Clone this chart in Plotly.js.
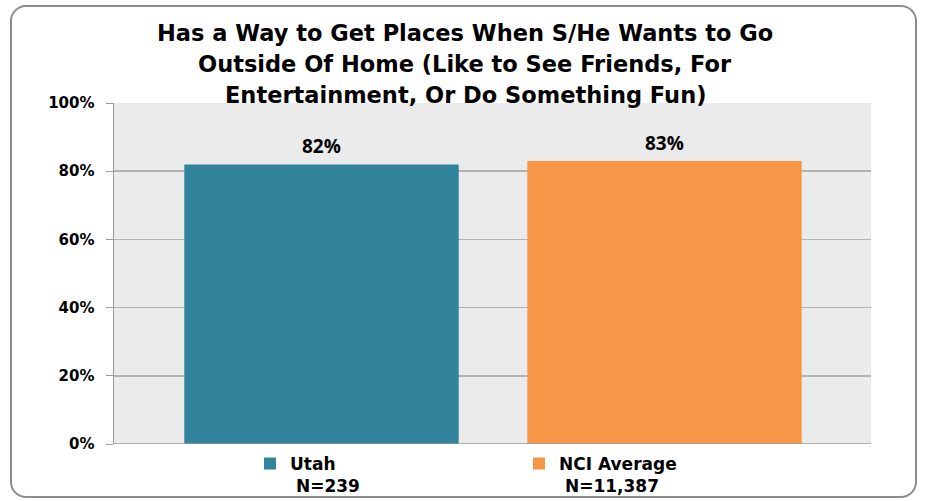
<!DOCTYPE html>
<html>
<head>
<meta charset="utf-8">
<script src="https://cdn.plot.ly/plotly-3.0.1.min.js"></script>
<style>
  html, body { margin: 0; padding: 0; background: #fff; }
  #wrap { position: relative; width: 926px; height: 501px; }
  #chart { width: 926px; height: 501px; }
  #frame { position: absolute; left: 10px; top: 5px; width: 903px; height: 489px;
           border: 2px solid #8c8c8c; border-radius: 16px; pointer-events: none; }
</style>
</head>
<body>
<div id="wrap">
  <div id="chart"></div>
  <div id="frame"></div>
</div>
<script>
const seriesNames = ["Utah", "NCI Average"];
const sampleSizes = ["N=239", "N=11,387"];
const values = [82, 83];
const valueLabels = ["82%", "83%"];
const categories = ["Utah", "NCI Average"];
const colors = ["#31849B", "#F79646"];
const yTicks = [0, 20, 40, 60, 80, 100];
const yTickLabels = ["0%", "20%", "40%", "60%", "80%", "100%"];
const titleLines = [
  "Has a Way to Get Places When S/He Wants to Go",
  "Outside Of Home (Like to See Friends, For",
  "Entertainment, Or Do Something Fun)"
];

const traces = seriesNames.map((name, i) => ({
  type: "bar",
  name: name + "<br> " + sampleSizes[i],
  x: [categories[i]],
  y: [values[i]],
  width: 0.8,
  marker: { color: colors[i] },
  hoverinfo: "skip"
}));

const titleY = [1.2053, 1.1144, 1.0235];
const annotations = titleLines.map((t, i) => ({
  text: t, xref: "paper", yref: "paper", x: 0.4637, y: titleY[i],
  xanchor: "center", yanchor: "middle", showarrow: false,
  font: { family: "DejaVu Sans", size: 22.5, color: "#000", weight: 700 }
})).concat(values.map((v, i) => ({
  text: valueLabels[i], xref: "x", yref: "y", x: categories[i], y: v,
  xanchor: "center", yanchor: "bottom", yshift: 3, showarrow: false,
  font: { family: "Open Sans", size: 19, color: "#000", weight: 700 }
})));

const layout = {
  width: 926, height: 501,
  margin: { l: 114, r: 55, t: 103, b: 57 },
  paper_bgcolor: "#fff",
  plot_bgcolor: "#ebebeb",
  barmode: "group",
  xaxis: {
    type: "category",
    range: [-0.605, 1.602],
    showticklabels: false,
    showgrid: false,
    zeroline: false,
    fixedrange: true
  },
  yaxis: {
    range: [0, 100],
    tickvals: yTicks,
    ticktext: yTickLabels,
    showgrid: true,
    gridcolor: "#b3b3b3",
    gridwidth: 1.5,
    zeroline: false,
    showline: true,
    linecolor: "#9a9a9a",
    linewidth: 1.5,
    ticks: "outside",
    ticklen: 7,
    tickcolor: "#9a9a9a",
    tickfont: { family: "DejaVu Sans", size: 15, color: "#000", weight: 700 },
    ticklabelstandoff: 8,
    fixedrange: true
  },
  showlegend: true,
  legend: {
    orientation: "h",
    xref: "container", yref: "container",
    x: 0.27, xanchor: "left",
    y: 0.1098, yanchor: "top",
    valign: "top",
    entrywidth: 224,
    entrywidthmode: "pixels",
    font: { family: "DejaVu Sans", size: 17, color: "#000", weight: 700 },
    itemwidth: 30,
    tracegroupgap: 0
  },
  annotations: annotations,
  shapes: [
    { type: "line", xref: "paper", yref: "y", x0: 0, x1: 1, y0: 0, y1: 0,
      line: { color: "#9a9a9a", width: 1.5 } }
  ]
};

Plotly.newPlot("chart", traces, layout, { displayModeBar: false, staticPlot: true });
</script>
</body>
</html>
